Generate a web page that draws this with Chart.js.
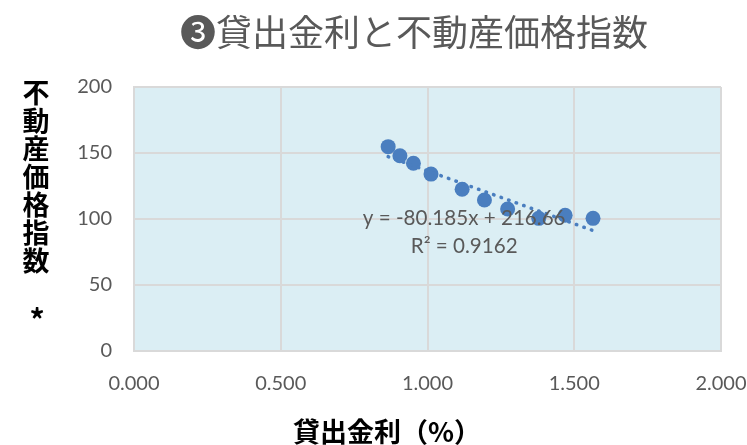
<!DOCTYPE html>
<html lang="ja">
<head>
<meta charset="utf-8">
<title>貸出金利と不動産価格指数</title>
<script src="https://cdn.jsdelivr.net/npm/chart.js@4/dist/chart.umd.min.js"></script>
<style>
  html, body { margin: 0; padding: 0; background: #fff; }
  #wrap { width: 747px; height: 445px; }
</style>
</head>
<body>
<div id="wrap"><canvas id="scatterChart" width="747" height="445"></canvas></div>
<script>
// 貸出金利(%) と 不動産価格指数
const rates = [0.866, 0.906, 0.952, 1.012, 1.118, 1.194, 1.273, 1.379, 1.469, 1.564];
const priceIndex = [154.8, 147.9, 142.2, 134.0, 122.5, 114.4, 107.6, 100.5, 102.8, 100.5];

// 近似直線 (線形) の係数
const slope = -80.185;
const intercept = 216.66;
const rSquared = 0.9162;

const xTicks = [0, 0.5, 1.0, 1.5, 2.0];
const yTicks = [0, 50, 100, 150, 200];

const titleText = '❸貸出金利と不動産価格指数';
const xTitle = '貸出金利（%）';
const yTitle = ['不', '動', '産', '価', '格', '指', '数'];

const BLUE = '#4a7ebf';
const GRAY_TEXT = '#595959';
const JP_FONT = '"Noto Sans CJK JP", "DejaVu Sans", sans-serif';
const NUM_FONT = 'Lato, "Liberation Sans", sans-serif';

const points = rates.map((x, i) => ({ x, y: priceIndex[i] }));
const xMin = Math.min(...rates);
const xMax = Math.max(...rates);
const trend = [
  { x: xMin, y: slope * xMin + intercept },
  { x: xMax, y: slope * xMax + intercept }
];

// プロットエリアの背景
const plotBg = {
  id: 'plotBg',
  beforeDraw(chart) {
    const { ctx, chartArea: a } = chart;
    ctx.save();
    ctx.fillStyle = '#dbeef4';
    ctx.fillRect(a.left, a.top, a.right - a.left, a.bottom - a.top);
    ctx.restore();
  }
};

// タイトル・軸タイトル・近似式ラベル
const labels = {
  id: 'labels',
  afterDraw(chart) {
    const { ctx, scales } = chart;
    ctx.save();
    ctx.textAlign = 'center';
    ctx.textBaseline = 'middle';

    ctx.fillStyle = GRAY_TEXT;
    ctx.font = '36px ' + JP_FONT;
    ctx.fillText(titleText, 414, 32);

    // 縦書きの縦軸タイトル
    ctx.fillStyle = '#000';
    ctx.font = 'bold 27px ' + JP_FONT;
    yTitle.forEach((ch, i) => ctx.fillText(ch, 36, 93 + i * 27.9));
    ctx.font = 'bold 30px ' + JP_FONT;
    ctx.fillText('*', 37, 320);

    ctx.font = 'bold 27px ' + JP_FONT;
    ctx.fillText(xTitle, 387, 432);

    // 近似式
    ctx.fillStyle = GRAY_TEXT;
    ctx.font = '20.6px ' + NUM_FONT;
    const lx = scales.x.getPixelForValue(1.125);
    ctx.fillText(`y = ${slope}x + ${intercept}`, lx, scales.y.getPixelForValue(100.5));
    ctx.fillText(`R² = ${rSquared}`, lx, scales.y.getPixelForValue(79.5));
    ctx.restore();
  }
};

new Chart(document.getElementById('scatterChart'), {
  type: 'scatter',
  data: {
    datasets: [
      {
        label: '不動産価格指数',
        data: points,
        backgroundColor: BLUE,
        borderWidth: 0,
        pointRadius: 7.5,
        pointHoverRadius: 7.5,
        order: 2
      },
      {
        type: 'line',
        label: '線形近似',
        data: trend,
        borderColor: BLUE,
        borderWidth: 3.5,
        borderDash: [0.5, 7.5],
        borderCapStyle: 'round',
        pointRadius: 0,
        fill: false,
        order: 1
      }
    ]
  },
  options: {
    responsive: false,
    animation: false,
    events: [],
    layout: { padding: { top: 87, right: 0, bottom: 0, left: 0 } },
    plugins: {
      legend: { display: false },
      tooltip: { enabled: false },
      title: { display: false }
    },
    scales: {
      x: {
        type: 'linear',
        min: 0,
        max: 2,
        afterBuildTicks: s => { s.ticks = xTicks.map(v => ({ value: v })); },
        afterFit: s => { s.height = 94; s.paddingRight = 26; },
        grid: { color: '#d9d9d9', lineWidth: 2, drawTicks: false },
        border: { display: true, color: '#d9d9d9', width: 2 },
        ticks: {
          color: GRAY_TEXT,
          font: { family: NUM_FONT, size: 20 },
          padding: 21,
          callback: v => v.toFixed(3)
        }
      },
      y: {
        min: 0,
        max: 200,
        afterBuildTicks: s => { s.ticks = yTicks.map(v => ({ value: v })); },
        afterFit: s => { s.width = 134; },
        grid: { color: '#d9d9d9', lineWidth: 2, drawTicks: false },
        border: { display: true, color: '#d9d9d9', width: 2 },
        ticks: {
          color: GRAY_TEXT,
          font: { family: NUM_FONT, size: 20 },
          padding: 22
        }
      }
    }
  },
  plugins: [plotBg, labels]
});
</script>
</body>
</html>
